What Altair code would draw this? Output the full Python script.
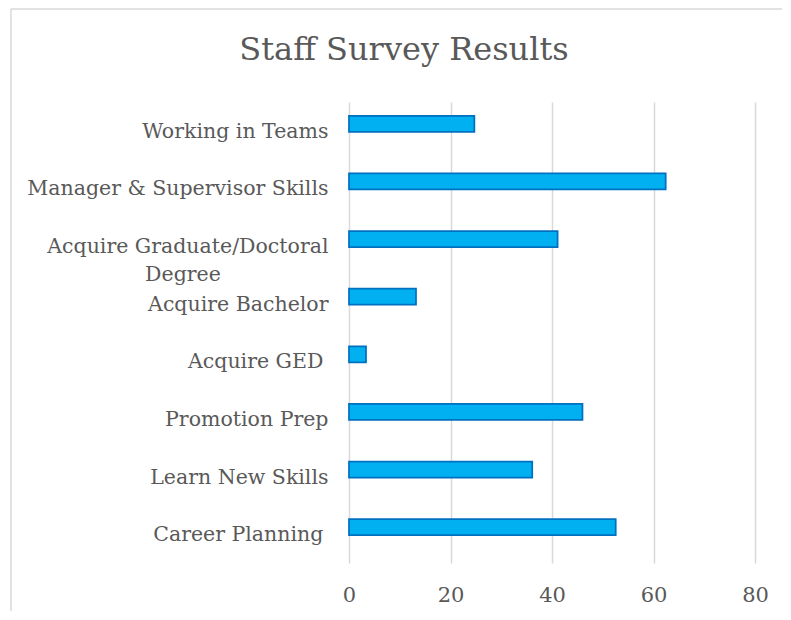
import altair as alt
import pandas as pd

categories = [
    "Working in Teams",
    "Manager & Supervisor Skills",
    "Acquire Graduate/Doctoral Degree",
    "Acquire Bachelor",
    "Acquire GED",
    "Promotion Prep",
    "Learn New Skills",
    "Career Planning",
]
values = [24.7, 62.4, 41.1, 13.2, 3.35, 46.0, 36.1, 52.55]
x_ticks = [0, 20, 40, 60, 80]

df = pd.DataFrame({"category": categories, "value": values})

FONT = "DejaVu Serif"
TXT = "#595959"

EM = "\u2003"
ZW = "\u200b"
SP = "\u2005"
label_expr = (
    "datum.value == 'Acquire Graduate/Doctoral Degree' ? "
    f"['Acquire Graduate/Doctoral', 'Degree{EM * 5}{SP}{ZW}'] : "
    f"datum.value == 'Acquire GED' ? 'Acquire GED{SP}{ZW}' : "
    f"datum.value == 'Career Planning' ? 'Career Planning{SP}{ZW}' : datum.value"
)

bars = alt.Chart(df).mark_bar(
    size=16, yOffset=-7, color="#00B0F0", stroke="#0070C0", strokeWidth=1.75
).encode(
    x=alt.X(
        "value:Q",
        scale=alt.Scale(domain=[0, 80], nice=False, zero=True),
        axis=alt.Axis(
            values=x_ticks, title=None, domain=False, ticks=False,
            grid=True, gridColor="#d9d9d9", gridWidth=1.5, labelFlush=False,
            labelFont=FONT, labelFontSize=21, labelColor=TXT, labelPadding=21,
        ),
    ),
    y=alt.Y(
        "category:N",
        sort=categories,
        scale=alt.Scale(paddingInner=0, paddingOuter=0),
        axis=alt.Axis(
            title=None, domain=False, ticks=False, grid=False,
            labelFont=FONT, labelFontSize=20.5, labelColor=TXT, labelPadding=21,
            labelLimit=400, labelLineHeight=28, labelExpr=label_expr,
            labelOffset=1,
        ),
    ),
)

border = alt.Chart(pd.DataFrame({"k": [0]})).mark_rule(
    color="#d9d9d9", strokeWidth=1.5
)
top_border = border.encode(x=alt.value(-338), x2=alt.value(470), y=alt.value(-93))
left_border = border.encode(x=alt.value(-338), y=alt.value(-93), y2=alt.value(540))

chart = alt.layer(top_border, left_border, bars).properties(
    width=406,
    height=461,
    padding={"left": 341, "top": 94, "right": 27, "bottom": 48},
    autosize=alt.AutoSizeParams(type="none"),
    title=alt.TitleParams(
        "Staff Survey Results", font=FONT, fontSize=32, fontWeight="normal",
        color=TXT, anchor="middle", dx=-148, offset=-59,
    ),
).configure_view(stroke=None)

chart.save("out.html", embed_options={"renderer": "svg", "actions": False})
